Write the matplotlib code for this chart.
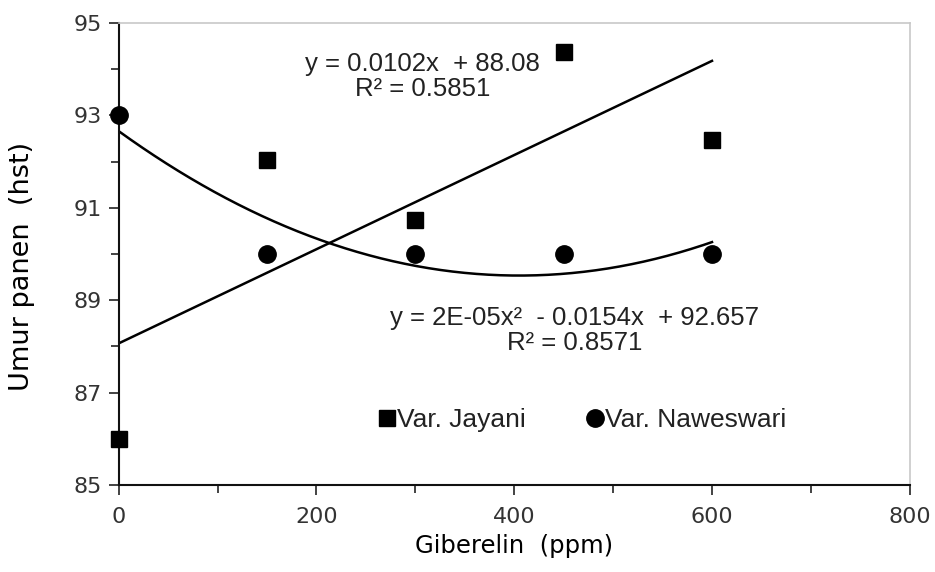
import numpy as np
import matplotlib
matplotlib.use("Agg")
import matplotlib.pyplot as plt

# Data
giberelin = [0, 150, 300, 450, 600]
jayani = [86.0, 92.03, 90.74, 94.37, 92.47]
naweswari = [93.0, 90.0, 90.0, 90.0, 90.0]

eq_jayani = "y = 0.0102x  + 88.08\nR\u00b2 = 0.5851"
eq_naweswari = "y = 2E-05x\u00b2  - 0.0154x  + 92.657\nR\u00b2 = 0.8571"

x = np.array(giberelin, dtype=float)
xs = np.linspace(0, 600, 200)
p1 = np.polyfit(x, jayani, 1)
p2 = np.polyfit(x, naweswari, 2)

fig = plt.figure(figsize=(9.35, 5.72), dpi=100)
ax = fig.add_axes([0.127, 0.152, 0.846, 0.808])

ax.plot(x, jayani, "s", color="black", ms=11, label="Var. Jayani", zorder=3, clip_on=False)
ax.plot(x, naweswari, "o", color="black", ms=12.5, label="Var. Naweswari", zorder=3, clip_on=False)
ax.plot(xs, np.polyval(p1, xs), color="black", lw=1.8)
ax.plot(xs, np.polyval(p2, xs), color="black", lw=1.8)

ax.set_xlim(0, 800)
ax.set_ylim(85, 95)
ax.set_xticks(np.arange(0, 801, 200))
ax.set_xticks(np.arange(100, 800, 200), minor=True)
ax.set_yticks(np.arange(85, 96, 2))
ax.set_yticks(np.arange(86, 95, 2), minor=True)
ax.tick_params(which="major", length=7, width=1.2, labelsize=16, color="#222222",
               labelcolor="#333333")
ax.tick_params(which="minor", length=6, width=1.2, color="#222222")
ax.tick_params(axis="x", pad=9)
ax.tick_params(axis="y", pad=5)

for s in ["left", "bottom"]:
    ax.spines[s].set_linewidth(1.5)
    ax.spines[s].set_color("#111111")
for s in ["top", "right"]:
    ax.spines[s].set_linewidth(1.2)
    ax.spines[s].set_color("#c8c8c8")

ax.set_xlabel("Giberelin  (ppm)", fontsize=17.5, labelpad=5)
ax.set_ylabel("Umur panen  (hst)", fontsize=19.5)
ax.yaxis.set_label_coords(-0.106, 0.474)

ax.text(307, 93.85, eq_jayani, family="Liberation Sans", fontsize=18.5,
        ha="center", va="center", linespacing=1.05, color="#222222")
ax.text(461, 88.35, eq_naweswari, family="Liberation Sans", fontsize=18.5,
        ha="center", va="center", linespacing=1.05, color="#222222")

ax.legend(loc="center", bbox_to_anchor=(0.585, 0.14), ncol=2, frameon=False,
          prop={"family": "Liberation Sans", "size": 19}, handletextpad=0.0,
          columnspacing=2.2, handlelength=0.8, borderaxespad=0, labelcolor="#222222")

fig.savefig("out.png", dpi=100)
